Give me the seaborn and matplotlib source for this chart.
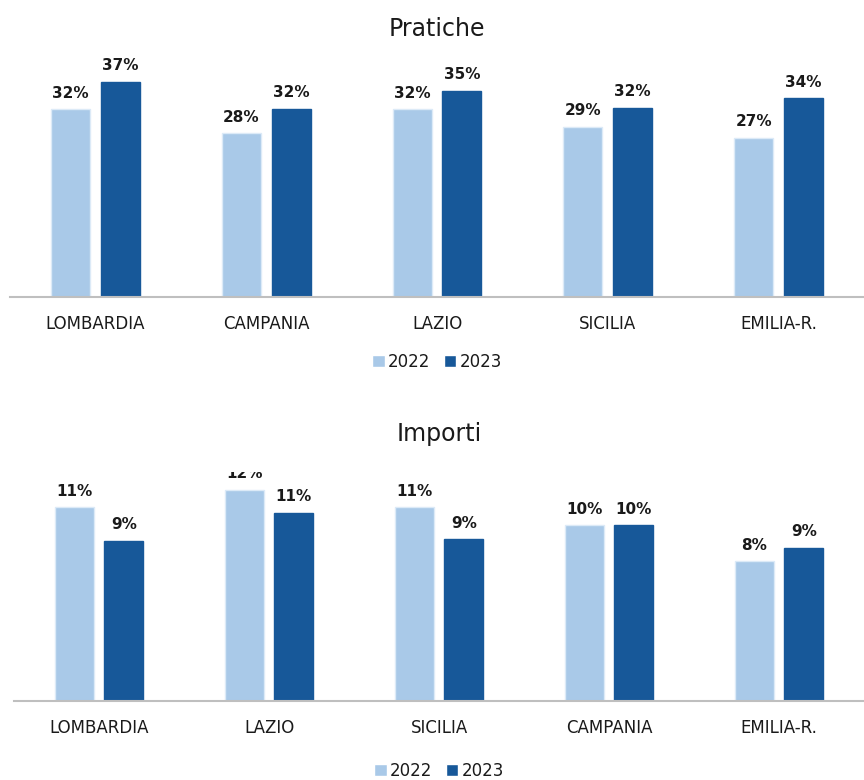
import pandas as pd
import matplotlib.pyplot as plt
import seaborn as sns

sns.set_style("white")
plt.rcParams['font.family'] = ['DejaVu Sans']

# dati
anni = ['2022', '2023']
colori = ['#A9C9E8', '#175899']

regioni_pratiche = ['LOMBARDIA', 'CAMPANIA', 'LAZIO', 'SICILIA', 'EMILIA-R.']
pratiche_2022 = [32.2, 28.1, 32.2, 29.2, 27.3]
pratiche_2023 = [36.9, 32.3, 35.4, 32.45, 34.1]

regioni_importi = ['LOMBARDIA', 'LAZIO', 'SICILIA', 'CAMPANIA', 'EMILIA-R.']
importi_2022 = [11.0, 12.0, 11.0, 10.0, 7.95]
importi_2023 = [9.1, 10.7, 9.2, 10.0, 8.7]


def to_long(regioni, v22, v23):
    return pd.DataFrame({
        'regione': regioni * 2,
        'anno': ['2022'] * len(regioni) + ['2023'] * len(regioni),
        'valore': list(v22) + list(v23),
    })


def draw(ax, regioni, v22, v23, titolo, ymax, title_pad, legend_y, clip):
    df = to_long(regioni, v22, v23)
    sns.barplot(data=df, x='regione', y='valore', hue='anno', order=regioni,
                hue_order=anni, palette=colori, width=0.585, gap=0.22,
                saturation=1, ax=ax)
    # bordo chiaro sulle barre 2022
    for cont, ec in zip(ax.containers, ['#DCEAF7', '#175899']):
        for b in cont:
            b.set_edgecolor(ec)
            b.set_linewidth(1)
        labels = ax.bar_label(cont, fmt='{:.0f}%', padding=6, fontsize=11,
                              fontweight='bold', color='#1a1a1a')
        if clip:
            for t in labels:
                t.set_clip_on(True)
                t.set_clip_box(ax.bbox)
    ax.set_ylim(0, ymax)
    ax.set_xlabel('')
    ax.set_ylabel('')
    ax.set_yticks([])
    ax.tick_params(axis='x', length=0, pad=13, labelsize=12, labelcolor='#1a1a1a')
    for s in ['top', 'left', 'right']:
        ax.spines[s].set_visible(False)
    ax.spines['bottom'].set_color('#BFBFBF')
    ax.spines['bottom'].set_linewidth(1.5)
    ax.set_title(titolo, fontsize=17, color='#1a1a1a', pad=title_pad)
    ax.legend(loc='upper center', bbox_to_anchor=(0.5, legend_y), ncol=2,
              frameon=False, fontsize=12, handlelength=0.75, handleheight=0.75,
              handletextpad=0.2, columnspacing=0.8, labelcolor='#1a1a1a')


fig = plt.figure(figsize=(8.64, 7.8), dpi=100)
ax1 = fig.add_axes([10 / 864, 1 - 297 / 780, 854 / 864, 242 / 780])
ax2 = fig.add_axes([14 / 864, 1 - 701 / 780, 850 / 864, 229 / 780])

draw(ax1, regioni_pratiche, pratiche_2022, pratiche_2023, 'Pratiche', 41.5, 14, -0.17, False)
draw(ax2, regioni_importi, importi_2022, importi_2023, 'Importi', 13.0, 22, -0.2, True)

fig.savefig('out.png', dpi=100)
plt.close(fig)
